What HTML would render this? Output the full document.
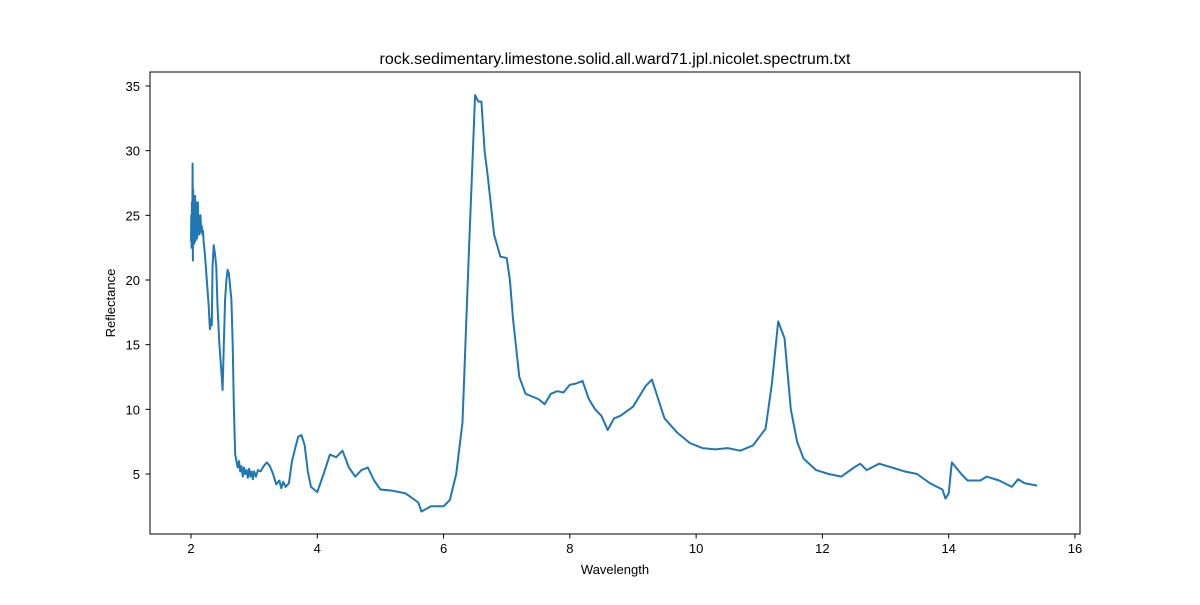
<!DOCTYPE html>
<html><head><meta charset="utf-8"><style>
body{margin:0;background:#fff;}
svg text{font-family:"Liberation Sans","DejaVu Sans",sans-serif;}
</style></head><body>
<svg id="chart" width="1200" height="600" xmlns="http://www.w3.org/2000/svg">
<rect width="1200" height="600" fill="#fff"/>
<text x="615" y="64" text-anchor="middle" font-size="16">rock.sedimentary.limestone.solid.all.ward71.jpl.nicolet.spectrum.txt</text>
<text x="615" y="574" text-anchor="middle" font-size="13">Wavelength</text>
<text x="0" y="0" transform="translate(115,303) rotate(-90)" text-anchor="middle" font-size="13">Reflectance</text>
<g id="plot"></g>
<rect x="150" y="72" width="930" height="462" fill="none" stroke="#000" stroke-width="1"/>
</svg>
<script>
const wavelengths=[2.0,2.005,2.01,2.015,2.02,2.025,2.03,2.035,2.04,2.045,2.05,2.055,2.06,2.065,2.07,2.075,2.08,2.085,2.09,2.095,2.1,2.105,2.11,2.115,2.12,2.125,2.13,2.14,2.15,2.16,2.17,2.18,2.19,2.2,2.22,2.25,2.28,2.3,2.32,2.33,2.34,2.36,2.38,2.4,2.42,2.45,2.48,2.5,2.52,2.54,2.56,2.58,2.6,2.62,2.64,2.66,2.68,2.7,2.72,2.74,2.76,2.78,2.8,2.82,2.84,2.86,2.88,2.9,2.92,2.94,2.96,2.98,3.0,3.03,3.06,3.1,3.15,3.2,3.25,3.3,3.35,3.4,3.43,3.46,3.5,3.55,3.6,3.65,3.7,3.75,3.8,3.85,3.9,3.95,4.0,4.1,4.2,4.3,4.4,4.5,4.6,4.7,4.8,4.9,5.0,5.2,5.4,5.6,5.65,5.8,6.0,6.1,6.2,6.3,6.4,6.5,6.55,6.6,6.65,6.7,6.8,6.9,7.0,7.05,7.1,7.2,7.3,7.5,7.6,7.7,7.8,7.9,8.0,8.1,8.2,8.3,8.4,8.5,8.6,8.7,8.8,9.0,9.2,9.3,9.4,9.5,9.7,9.9,10.1,10.3,10.5,10.7,10.9,11.1,11.2,11.3,11.4,11.5,11.6,11.7,11.9,12.1,12.3,12.5,12.6,12.7,12.9,13.1,13.3,13.5,13.7,13.9,13.95,14.0,14.05,14.2,14.3,14.5,14.6,14.8,15.0,15.1,15.2,15.4];
const reflectance=[23,25,22.5,26,24,29,21.5,27,23,26.5,22.8,25.5,24,26.5,23,25.8,23.5,26,24.5,23.2,25.5,23.8,26,24,25,23.5,24.8,23.6,25,23.8,24.2,23.5,23.8,23,22,20,18,16.2,17,16.5,21,22.7,22,21,18,15,13,11.5,15,18.5,20,20.8,20.5,19.5,18.5,15,10,6.5,6,5.5,6,5.2,5.6,4.8,5.5,5,5.3,4.7,5.4,4.8,5.2,4.6,5.2,4.8,5.3,5.2,5.6,5.9,5.6,5.0,4.2,4.5,3.9,4.4,4.0,4.3,6.0,7.0,7.9,8.0,7.2,5.2,4.0,3.8,3.6,5.0,6.5,6.3,6.8,5.5,4.8,5.3,5.5,4.5,3.8,3.7,3.5,2.8,2.1,2.5,2.5,3,5,9,22,34.3,33.8,33.8,30,28,23.5,21.8,21.7,20,17,12.5,11.2,10.8,10.4,11.2,11.4,11.3,11.9,12,12.2,10.8,10,9.5,8.4,9.3,9.5,10.2,11.8,12.3,10.8,9.3,8.2,7.4,7,6.9,7,6.8,7.2,8.5,12,16.8,15.5,10,7.5,6.2,5.3,5,4.8,5.5,5.8,5.3,5.8,5.5,5.2,5,4.3,3.8,3.1,3.5,5.9,5,4.5,4.5,4.8,4.5,4,4.6,4.3,4.1];
const xTicks=[2,4,6,8,10,12,14,16];
const yTicks=[5,10,15,20,25,30,35];
const xs=v=>191+(v-2)*63.14;
const ys=v=>474-(v-5)*12.933;
const NS="http://www.w3.org/2000/svg";
const g=document.getElementById('plot');
function mk(t,a){const e=document.createElementNS(NS,t);for(const k in a)e.setAttribute(k,a[k]);g.appendChild(e);return e;}
xTicks.forEach(t=>{
  const l=mk('line',{x1:xs(t),x2:xs(t),y1:534,y2:538.5,stroke:'#000'});
  
  
  const tx=mk('text',{x:xs(t),y:553,'text-anchor':'middle','font-size':13});
  tx.textContent=t;
  
  
});
yTicks.forEach(t=>{
  const l=mk('line',{x1:145.5,x2:150,y1:ys(t),y2:ys(t),stroke:'#000'});
  
  
  const tx=mk('text',{x:140,y:ys(t)+5,'text-anchor':'end','font-size':13});
  tx.textContent=t;
  
  
});
const d=wavelengths.map((w,i)=>(i?'L':'M')+xs(w).toFixed(1)+','+ys(reflectance[i]).toFixed(1)).join('');
const p=mk('path',{d:d,fill:'none',stroke:'#1f77b4','stroke-width':2,'stroke-linejoin':'round'});


</script>
</body></html>
